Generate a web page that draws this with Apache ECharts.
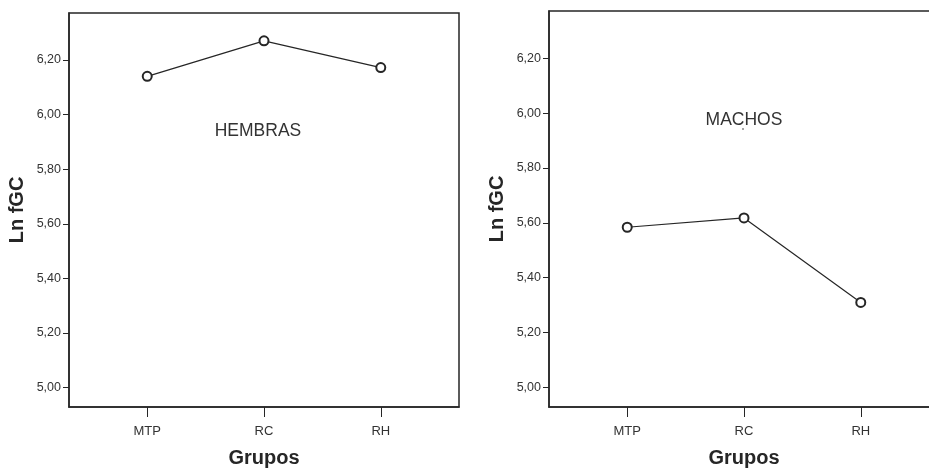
<!DOCTYPE html>
<html>
<head>
<meta charset="utf-8">
<script src="https://cdn.jsdelivr.net/npm/echarts@6/dist/echarts.min.js"></script>
<style>
html,body{margin:0;padding:0;background:#fff;}
#c{width:929px;height:470px;}
</style>
</head>
<body>
<div id="c"></div>
<script>
const categories = ['MTP', 'RC', 'RH'];
const hembras = [6.140, 6.270, 6.172];
const machos = [5.584, 5.618, 5.310];
const yTicks = [5.00, 5.20, 5.40, 5.60, 5.80, 6.00, 6.20];
const panelTitles = ['HEMBRAS', 'MACHOS'];
const yName = 'Ln fGC';
const xName = 'Grupos';

const FONT = '"Liberation Sans", Arial, sans-serif';
const DARK = '#262626';
const yMin = 4.929, yMax = 6.372;
const xMin = -0.67, xMax = 2.67;

function xAxis(gi) {
  return {
    type: 'value', gridIndex: gi, min: xMin, max: xMax,
    name: xName, nameLocation: 'middle', nameGap: 41,
    nameTextStyle: { fontFamily: FONT, fontSize: 20, fontWeight: 'bold', color: DARK },
    axisLine: { show: true, onZero: false, lineStyle: { color: DARK, width: 1.5 } },
    axisTick: { show: true, customValues: [0, 1, 2], length: 10, lineStyle: { color: DARK, width: 1 } },
    axisLabel: { customValues: [0, 1, 2], margin: 18, fontFamily: FONT, fontSize: 13, color: '#333',
      formatter: v => categories[Math.round(v)] },
    splitLine: { show: false }
  };
}
function yAxis(gi) {
  return {
    type: 'value', gridIndex: gi, min: yMin, max: yMax,
    name: yName, nameLocation: 'middle', nameGap: 42,
    nameTextStyle: { fontFamily: FONT, fontSize: 20, fontWeight: 'bold', color: DARK },
    axisLine: { show: true, onZero: false, lineStyle: { color: DARK, width: 1.5 } },
    axisTick: { show: true, customValues: yTicks, length: 6, lineStyle: { color: DARK, width: 1 } },
    axisLabel: { customValues: yTicks, margin: 8, fontFamily: FONT, fontSize: 12.5, color: '#333',
      formatter: v => v.toFixed(2).replace('.', ',') },
    splitLine: { show: false }
  };
}
function series(gi, vals) {
  return {
    type: 'line', xAxisIndex: gi, yAxisIndex: gi,
    data: vals.map((v, i) => [i, v]),
    symbol: 'emptyCircle', symbolSize: 9,
    lineStyle: { color: DARK, width: 1.2 },
    itemStyle: { color: DARK, borderColor: DARK, borderWidth: 1 },
    animation: false
  };
}

const chart = echarts.init(document.getElementById('c'));
chart.setOption({
  backgroundColor: '#fff',
  animation: false,
  grid: [
    { left: 69, top: 13, width: 390, height: 394, show: true, borderColor: DARK, borderWidth: 1.5, backgroundColor: 'transparent', outerBoundsMode: 'none', containLabel: false },
    { left: 549, top: 11, width: 390, height: 396, show: true, borderColor: DARK, borderWidth: 1.5, backgroundColor: 'transparent', outerBoundsMode: 'none', containLabel: false }
  ],
  xAxis: [xAxis(0), xAxis(1)],
  yAxis: [yAxis(0), yAxis(1)],
  series: [series(0, hembras), series(1, machos)],
  graphic: [
    { type: 'text', x: 258, y: 131, style: { text: panelTitles[0], font: '17.5px ' + FONT, fill: '#333', align: 'center', verticalAlign: 'middle' } },
    { type: 'text', x: 744, y: 120, style: { text: panelTitles[1], font: '17.5px ' + FONT, fill: '#333', align: 'center', verticalAlign: 'middle' } },
    { type: 'circle', shape: { cx: 743, cy: 129, r: 0.8 }, style: { fill: '#333' } }
  ]
});
</script>
</body>
</html>
